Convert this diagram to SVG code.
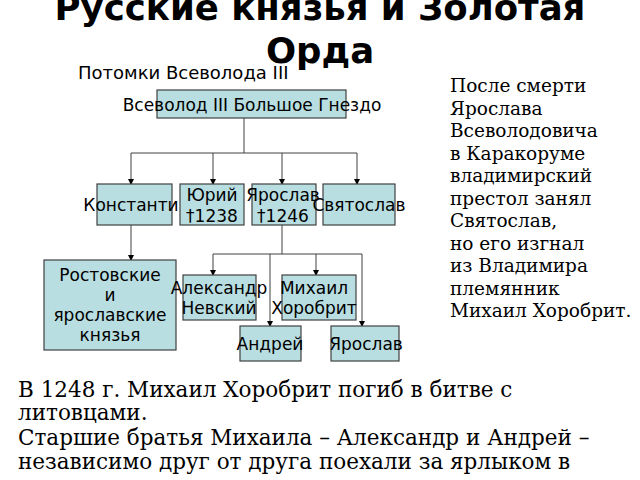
<svg xmlns="http://www.w3.org/2000/svg" width="640" height="480" viewBox="0 0 640 480">
<style>
.b{fill:#b8dee1;stroke:#404040;stroke-width:1.2}
.t{font-family:"DejaVu Sans",sans-serif;font-size:17px;fill:#000;text-anchor:middle}
.c path{fill:none;stroke:#404040;stroke-width:1}
.s{font-family:"DejaVu Serif",serif;font-size:18.5px}
.bt{font-family:"DejaVu Serif",serif;font-size:21.5px}
</style>
<defs><marker id="a" markerWidth="6" markerHeight="6" refX="5" refY="3" orient="auto"><path d="M0,0L6,3L0,6z" fill="#000"/></marker></defs>
<rect width="640" height="480" fill="#fff"/>
<text x="320" y="20" font-family="DejaVu Sans,sans-serif" font-size="35.5" font-weight="bold" text-anchor="middle">Русские князья и Золотая</text>
<text x="320" y="63" font-family="DejaVu Sans,sans-serif" font-size="35.5" font-weight="bold" text-anchor="middle">Орда</text>
<text x="78" y="79" font-family="DejaVu Sans,sans-serif" font-size="18">Потомки Всеволода III</text>
<text class="s" x="450" y="92"><tspan x="450">После смерти</tspan><tspan x="450" dy="22.5">Ярослава</tspan><tspan x="450" dy="22.5">Всеволодовича</tspan><tspan x="450" dy="22.5">в Каракоруме</tspan><tspan x="450" dy="22.5">владимирский</tspan><tspan x="450" dy="22.5">престол занял</tspan><tspan x="450" dy="22.5">Святослав,</tspan><tspan x="450" dy="22.5">но его изгнал</tspan><tspan x="450" dy="22.5">из Владимира</tspan><tspan x="450" dy="22.5">племянник</tspan><tspan x="450" dy="22.5">Михаил Хоробрит.</tspan></text>
<text class="bt" x="18" y="397"><tspan x="18">В 1248 г. Михаил Хоробрит погиб в битве с</tspan><tspan x="18" dy="23">литовцами.</tspan><tspan x="18" dy="25">Старшие братья Михаила – Александр и Андрей –</tspan><tspan x="18" dy="24">независимо друг от друга поехали за ярлыком в</tspan></text>
<g class="c" id="connectors">
<path d="M244,118V153M131,153H357"/>
<path d="M131,153V184" marker-end="url(#a)"/><path d="M213,153V184" marker-end="url(#a)"/><path d="M282,153V184" marker-end="url(#a)"/><path d="M357,153V184" marker-end="url(#a)"/>
<path d="M131,225V260" marker-end="url(#a)"/>
<path d="M282,225V254M213,254H362"/>
<path d="M213,254V275" marker-end="url(#a)"/><path d="M316,254V275" marker-end="url(#a)"/><path d="M270,254V326" marker-end="url(#a)"/><path d="M362,254V326" marker-end="url(#a)"/>
</g>
<g id="n1"><rect class="b" x="157" y="90" width="189" height="28"/><text class="t" x="252" y="111">Всеволод III Большое Гнездо</text></g>
<g id="n2"><rect class="b" x="97" y="184" width="75" height="41"/><text class="t" x="131" y="211">Константи</text></g>
<g id="n3"><rect class="b" x="180" y="184" width="64" height="41"/><text class="t" x="212" y="201">Юрий</text><text class="t" x="212" y="222">†1238</text></g>
<g id="n4"><rect class="b" x="252" y="184" width="64" height="41"/><text class="t" x="283" y="201">Ярослав</text><text class="t" x="283" y="222">†1246</text></g>
<g id="n5"><rect class="b" x="323" y="184" width="72" height="41"/><text class="t" x="359" y="211">Святослав</text></g>
<g id="n6"><rect class="b" x="44" y="260" width="132" height="90"/><text class="t" x="110" y="281">Ростовские</text><text class="t" x="110" y="301">и</text><text class="t" x="110" y="321">ярославские</text><text class="t" x="110" y="341">князья</text></g>
<g id="n7"><rect class="b" x="183" y="275" width="73" height="45"/><text class="t" x="219" y="294">Александр</text><text class="t" x="219" y="314">Невский</text></g>
<g id="n8"><rect class="b" x="282" y="275" width="74" height="45"/><text class="t" x="314" y="294">Михаил</text><text class="t" x="314" y="314">Хоробрит</text></g>
<g id="n9"><rect class="b" x="240" y="326" width="61" height="35"/><text class="t" x="270" y="350">Андрей</text></g>
<g id="n10"><rect class="b" x="331" y="326" width="68" height="35"/><text class="t" x="366" y="350">Ярослав</text></g>
</svg>
